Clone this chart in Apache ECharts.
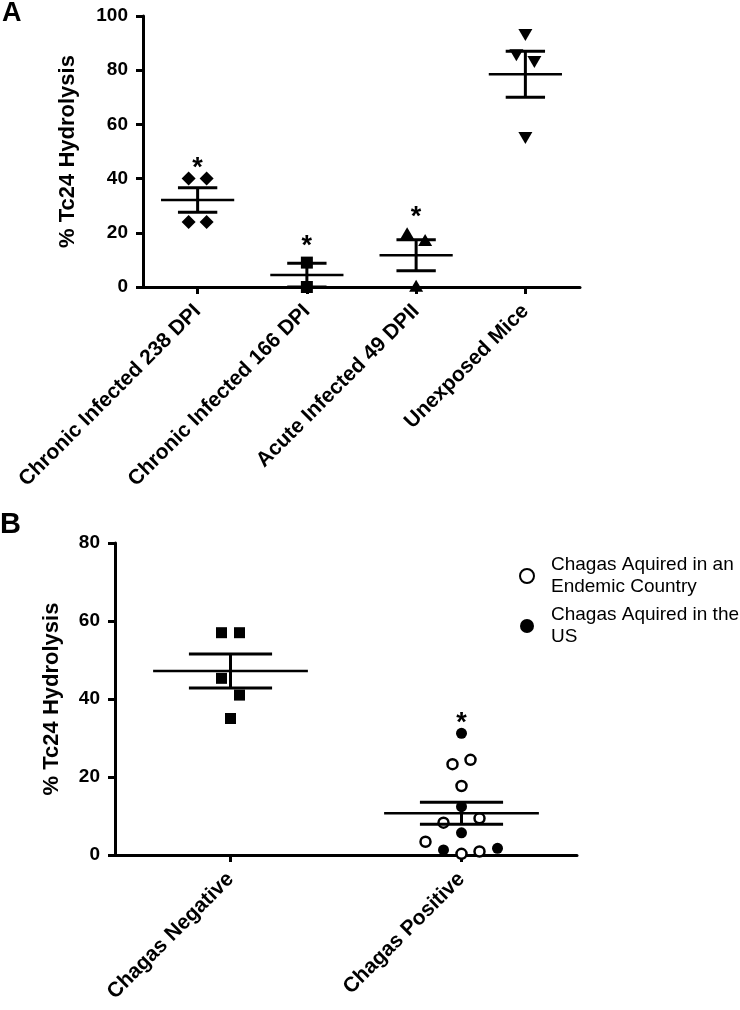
<!DOCTYPE html>
<html><head><meta charset="utf-8">
<script src="https://cdn.jsdelivr.net/npm/echarts@6/dist/echarts.min.js"></script>
<style>html,body{margin:0;padding:0;background:#fff}#c{width:740px;height:1010px}</style>
</head><body><div id="c"></div>
<script>
// ---------- Panel A data ----------
const catsA = ['Chronic Infected 238 DPI', 'Chronic Infected 166 DPI', 'Acute Infected 49 DPII', 'Unexposed Mice'];
const ticksA = [0, 20, 40, 60, 80, 100];
const chronic238 = [40, 40, 24, 24];
const chronic166 = [9, 0];
const acute49 = [19.8, 17.3, 0.5];
const unexposed = [93, 85.5, 83, 55];
const meanA = [32.1, 4.4, 11.7, 78.5];
const semA = [4.5, 4.4, 5.7, 8.5];
const starA = [45.7, 16.7, 27.3, null];

// ---------- Panel B data ----------
const catsB = ['Chagas Negative', 'Chagas Positive'];
const ticksB = [0, 20, 40, 60, 80];
const negative = [57, 57, 45.3, 41, 35];
const posEndemic = [23.3, 24.4, 17.7, 8.3, 9.4, 3.4, 0.3, 0.9];
const posUS = [31.2, 12.4, 5.7, 1.3, 1.7];
const meanB = [47.2, 10.7];
const semB = [4.35, 2.8];
const starB = [null, 35.1];

// ---------- layout (horizontal spread of overlapping points, in steps) ----------
const STEP = 9;
const spread = {
  chronic238: [-1, 1, -1, 1], chronic166: [0, 0], acute49: [-1, 1, 0], unexposed: [0, -1, 1, 0],
  negative: [-1, 1, -1, 1, 0], posEndemic: [-1, 1, 0, -2, 2, -4, 0, 2], posUS: [0, 0, 0, -2, 4]
};

const FONT = '"Liberation Sans", Arial, Helvetica, sans-serif';
function pts(cat, vals, sp) {
  return vals.map((v, i) => ({ value: [cat, v], symbolOffset: [sp[i] * STEP, 0] }));
}
function errRender(params, api) {
  const c = api.value(0), m = api.value(1), s = api.value(2);
  const x = api.coord([c, m])[0];
  const band = api.size([1, 0])[0];
  const yM = api.coord([c, m])[1];
  const yT = api.coord([c, m + s])[1];
  const yB = api.coord([c, Math.max(0, m - s)])[1];
  const hw = band * 0.335, cw = band * 0.18;
  const st = { stroke: '#000', lineWidth: 3 };
  return { type: 'group', children: [
    { type: 'line', shape: { x1: x - hw, y1: yM, x2: x + hw, y2: yM }, style: { stroke: '#000', lineWidth: 2.5 } },
    { type: 'line', shape: { x1: x, y1: yT, x2: x, y2: yB }, style: st },
    { type: 'line', shape: { x1: x - cw, y1: yT, x2: x + cw, y2: yT }, style: st },
    { type: 'line', shape: { x1: x - cw, y1: yB, x2: x + cw, y2: yB }, style: st }
  ]};
}
function starRender(params, api) {
  const p = api.coord([api.value(0), api.value(1)]);
  return { type: 'text', x: p[0], y: p[1] + 5, style: { text: '*', fill: '#000', font: 'bold 27px ' + FONT, textAlign: 'center', textVerticalAlign: 'middle' } };
}
function errData(means, sems) { return means.map((m, i) => [i, m, sems[i]]); }
function starData(stars) { return stars.map((s, i) => s == null ? null : [i, s]).filter(d => d); }

const axisLine = { show: true, lineStyle: { color: '#000', width: 3 } };
const axisTick = { show: true, length: 7, inside: false, lineStyle: { color: '#000', width: 3 } };
const yLabel = { color: '#000', fontFamily: FONT, fontWeight: 'bold', fontSize: 19 };

function xAxis(gi, cats) {
  return { type: 'category', gridIndex: gi, data: cats, boundaryGap: true,
    axisLine, axisTick: Object.assign({ alignWithLabel: true }, axisTick),
    axisLabel: { rotate: 45, margin: 21, color: '#000', fontFamily: FONT, fontWeight: 'bold', fontSize: 21, interval: 0 },
    splitLine: { show: false } };
}
function yAxis(gi, ticks, gap) {
  return { type: 'value', gridIndex: gi, min: ticks[0], max: ticks[ticks.length - 1], interval: ticks[1] - ticks[0],
    name: '% Tc24 Hydrolysis', nameLocation: 'middle', nameGap: gap,
    nameTextStyle: { color: '#000', fontFamily: FONT, fontWeight: 'bold', fontSize: 22 },
    axisLine, axisTick, axisLabel: Object.assign({ margin: 15 }, yLabel), splitLine: { show: false } };
}

const black = { color: '#000', opacity: 1 };
const chart = echarts.init(document.getElementById('c'), null, { renderer: 'canvas' });
chart.setOption({
  animation: false,
  backgroundColor: '#fff',
  grid: [
    { left: 143, top: 16, width: 437, height: 271 },
    { left: 115, top: 543, width: 462, height: 312 }
  ],
  xAxis: [xAxis(0, catsA), xAxis(1, catsB)],
  yAxis: [yAxis(0, ticksA, 64), yAxis(1, ticksB, 52)],
  title: [
    { text: 'A', left: 2, top: 0, padding: 0, textStyle: { fontFamily: FONT, fontWeight: 'bold', fontSize: 27, color: '#000' } },
    { text: 'B', left: 0, top: 510, padding: 0, textStyle: { fontFamily: FONT, fontWeight: 'bold', fontSize: 29, color: '#000' } }
  ],
  legend: {
    data: ['Chagas Aquired in an\nEndemic Country', 'Chagas Aquired in the\nUS'],
    orient: 'vertical', left: 519, top: 554, itemGap: 6, itemWidth: 14, itemHeight: 14, padding: 0,
    textStyle: { fontFamily: FONT, fontSize: 19, color: '#000', lineHeight: 22, padding: [0, 0, 0, 12] }
  },
  series: [
    { type: 'scatter', xAxisIndex: 0, yAxisIndex: 0, symbol: 'diamond', symbolSize: 14, itemStyle: black, data: pts(0, chronic238, spread.chronic238), z: 2 },
    { type: 'scatter', xAxisIndex: 0, yAxisIndex: 0, symbol: 'rect', symbolSize: 12, itemStyle: black, data: pts(1, chronic166, spread.chronic166), z: 2 },
    { type: 'scatter', xAxisIndex: 0, yAxisIndex: 0, symbol: 'triangle', symbolSize: [14, 12], itemStyle: black, data: pts(2, acute49, spread.acute49), z: 2 },
    { type: 'scatter', xAxisIndex: 0, yAxisIndex: 0, symbol: 'triangle', symbolRotate: 180, symbolSize: [14, 12], itemStyle: black, data: pts(3, unexposed, spread.unexposed), z: 2 },
    { type: 'custom', xAxisIndex: 0, yAxisIndex: 0, renderItem: errRender, data: errData(meanA, semA), z: 5, silent: true },
    { type: 'custom', xAxisIndex: 0, yAxisIndex: 0, renderItem: starRender, data: starData(starA), z: 5, silent: true },

    { type: 'scatter', xAxisIndex: 1, yAxisIndex: 1, symbol: 'rect', symbolSize: 11, itemStyle: black, data: pts(0, negative, spread.negative), z: 2 },
    { name: 'Chagas Aquired in an\nEndemic Country', type: 'scatter', xAxisIndex: 1, yAxisIndex: 1, symbol: 'circle', symbolSize: 10,
      itemStyle: { color: '#fff', borderColor: '#000', borderWidth: 2.5, opacity: 1 }, data: pts(1, posEndemic, spread.posEndemic), z: 2 },
    { name: 'Chagas Aquired in the\nUS', type: 'scatter', xAxisIndex: 1, yAxisIndex: 1, symbol: 'circle', symbolSize: 11,
      itemStyle: black, data: pts(1, posUS, spread.posUS), z: 2 },
    { type: 'custom', xAxisIndex: 1, yAxisIndex: 1, renderItem: errRender, data: errData(meanB, semB), z: 5, silent: true },
    { type: 'custom', xAxisIndex: 1, yAxisIndex: 1, renderItem: starRender, data: starData(starB), z: 5, silent: true }
  ]
});
</script></body></html>
